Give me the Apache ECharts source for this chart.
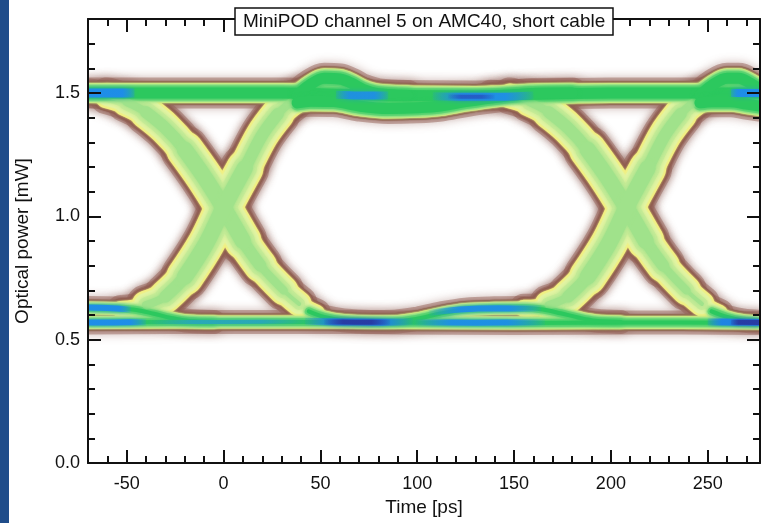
<!DOCTYPE html>
<html>
<head>
<meta charset="utf-8">
<script src="https://cdn.jsdelivr.net/npm/echarts@6/dist/echarts.min.js"></script>
<style>
  html, body { margin: 0; padding: 0; background: #fff; }
  #chart { width: 767px; height: 523px; }
</style>
</head>
<body>
<div id="chart"></div>
<script>
// ---- text and axes ----
const FONT = '"Liberation Sans", Arial, sans-serif';
const titleText = 'MiniPOD channel 5 on AMC40, short cable';
const xName = 'Time [ps]';
const yName = 'Optical power [mW]';
const timeRange = [-70, 277];
const powerRange = [0, 1.8];
const xMajorTicks = [-50, 0, 50, 100, 150, 200, 250];
const xMinorTicks = [-60, -40, -30, -20, -10, 10, 20, 30, 40, 60, 70, 80, 90, 110, 120, 130, 140,
                     160, 170, 180, 190, 210, 220, 230, 240, 260, 270];
const yMajorTicks = [0, 0.5, 1.0, 1.5];
const yMinorTicks = [0.1, 0.2, 0.3, 0.4, 0.6, 0.7, 0.8, 0.9, 1.1, 1.2, 1.3, 1.4, 1.6, 1.7];

// ---- eye traces: [time ps, optical power mW] ----
const highRail = [[-70, 1.50], [-20, 1.50], [30, 1.50], [60, 1.495], [90, 1.49], [130, 1.488],
                  [160, 1.495], [200, 1.50], [240, 1.50], [277, 1.50]];
const lowRail = [[-70, 0.57], [0, 0.572], [50, 0.572], [90, 0.57], [150, 0.568], [210, 0.57], [277, 0.568]];
const lowSettlePrev = [[-70, 0.628], [-55, 0.626], [-45, 0.62], [-36, 0.605], [-27, 0.588], [-18, 0.576], [-5, 0.572]];
const fallEdge0 = [[-70, 1.50], [-60, 1.488], [-50, 1.463], [-40, 1.422], [-30, 1.357], [-20, 1.27], [-10, 1.16],
                   [0, 1.035], [10, 0.90], [19, 0.80], [31, 0.70], [39, 0.645], [48, 0.607]];
const lowSettle0 = [[44, 0.615], [52, 0.592], [62, 0.578], [76, 0.572], [88, 0.573], [100, 0.585], [112, 0.606],
                    [125, 0.622], [140, 0.627], [155, 0.628], [165, 0.622], [174, 0.607], [183, 0.59],
                    [192, 0.577], [205, 0.572]];
const riseEdge0 = [[-53, 0.622], [-46, 0.628], [-40, 0.64], [-30, 0.675], [-20, 0.755], [-9, 0.89], [0, 1.035],
                   [11, 1.195], [20, 1.33], [28, 1.415], [36, 1.47], [44, 1.50], [50, 1.505]];
const riseOvershoot0 = [[38, 1.49], [44, 1.53], [52, 1.56], [60, 1.557], [66, 1.54], [72, 1.515],
                        [80, 1.497], [95, 1.49]];
const riseSettle0 = [[38, 1.46], [45, 1.467], [57, 1.465], [70, 1.447], [85, 1.437], [100, 1.44],
                     [112, 1.447], [125, 1.465], [143, 1.485], [160, 1.498], [180, 1.50]];
const fallEdge208 = [[138, 1.495], [148, 1.488], [158, 1.463], [168, 1.422], [178, 1.357], [188, 1.27], [198, 1.16],
                     [208, 1.035], [218, 0.90], [227, 0.80], [239, 0.70], [247, 0.645], [256, 0.607]];
const lowSettle208 = [[252, 0.615], [260, 0.592], [268, 0.578], [277, 0.572]];
const riseEdge208 = [[155, 0.627], [162, 0.63], [168, 0.64], [178, 0.675], [188, 0.755], [199, 0.89],
                     [208, 1.035], [219, 1.195], [228, 1.33], [236, 1.415], [244, 1.47], [252, 1.50], [258, 1.505]];
const riseOvershoot208 = [[246, 1.49], [252, 1.53], [260, 1.56], [266, 1.56], [272, 1.54], [277, 1.515]];
const riseSettle208 = [[246, 1.46], [252, 1.465], [262, 1.465], [270, 1.455], [277, 1.447]];

// ---- densest spots of the eye ----
const blueHighLeft = [[-70, 1.50], [-58, 1.50], [-46, 1.50]];
const blueHighMid = [[58, 1.493], [70, 1.49], [85, 1.49]];
const blueHighRun = [[108, 1.487], [125, 1.485], [142, 1.485], [160, 1.49]];
const blueHighRight = [[262, 1.50], [270, 1.50], [277, 1.50]];
const darkHigh = [[116, 1.486], [128, 1.485], [140, 1.485]];
const blueLowLeftUpper = [[-70, 0.63], [-60, 0.628], [-48, 0.622]];
const blueLowLeftLower = [[-70, 0.57], [-56, 0.57], [-40, 0.571]];
const blueLowRun = [[-40, 0.571], [0, 0.572], [44, 0.574]];
const blueLowCore = [[42, 0.575], [60, 0.572], [78, 0.571], [98, 0.573]];
const darkLowCore = [[52, 0.572], [68, 0.571], [86, 0.571]];
const blueLowUpper2 = [[106, 0.608], [122, 0.622], [142, 0.627], [164, 0.626]];
const blueLowLower2 = [[98, 0.57], [130, 0.569], [166, 0.57]];
const blueLowRight = [[250, 0.572], [264, 0.571], [277, 0.57]];
const darkLowRight = [[262, 0.571], [277, 0.57]];

// ---- drawing ----
// points of a trace inside a time window: the steep part of an edge is drawn wider (timing jitter)
const within = (trace, t0, t1) => trace.filter(p => p[0] >= t0 && p[0] <= t1);

const traceGroups = [
  { data: fallEdge0, w: 22, kind: 'edge' },
  { data: riseEdge0, w: 22, kind: 'edge' },
  { data: fallEdge208, w: 22, kind: 'edge' },
  { data: riseEdge208, w: 22, kind: 'edge' },
  { data: within(fallEdge0, -60, 39), w: 30, kind: 'edge' },
  { data: within(riseEdge0, -40, 44), w: 30, kind: 'edge' },
  { data: within(fallEdge208, 148, 247), w: 30, kind: 'edge' },
  { data: within(riseEdge208, 168, 252), w: 30, kind: 'edge' },
  { data: within(fallEdge0, -50, 31), w: 34, kind: 'edge' },
  { data: within(riseEdge0, -40, 36), w: 34, kind: 'edge' },
  { data: within(fallEdge208, 158, 239), w: 34, kind: 'edge' },
  { data: within(riseEdge208, 168, 244), w: 34, kind: 'edge' },
  { data: within(fallEdge0, -40, 19), w: 38, kind: 'edge' },
  { data: within(riseEdge0, -30, 28), w: 38, kind: 'edge' },
  { data: within(fallEdge208, 168, 227), w: 38, kind: 'edge' },
  { data: within(riseEdge208, 178, 236), w: 38, kind: 'edge' },
  { data: within(fallEdge0, -20, 10), w: 42, kind: 'edge' },
  { data: within(riseEdge0, -20, 11), w: 42, kind: 'edge' },
  { data: within(fallEdge208, 188, 218), w: 42, kind: 'edge' },
  { data: within(riseEdge208, 188, 219), w: 42, kind: 'edge' },
  { data: lowRail, w: 17, kind: 'rail' },
  { data: lowSettlePrev, w: 17, kind: 'rail' },
  { data: lowSettle0, w: 17, kind: 'rail' },
  { data: lowSettle208, w: 17, kind: 'rail' },
  { data: highRail, w: 24, kind: 'rail' },
  { data: riseOvershoot0, w: 24, kind: 'rail' },
  { data: riseSettle0, w: 24, kind: 'rail' },
  { data: riseOvershoot208, w: 24, kind: 'rail' },
  { data: riseSettle208, w: 24, kind: 'rail' }
];

// band layers, outermost first: colour per band kind, width relative to the band's brown rim
const palette = {
  edge: { pale: '#e4f4a3', lime: '#c6eb97', green: '#a0e28b' },
  rail: { pale: '#c6ee93', lime: '#6fd87a', green: '#2cc85e' }
};
const layers = [
  { blur: 10, shadow: 'rgba(140,90,80,0.85)', color: () => 'rgba(150,100,90,0.5)', width: { edge: 7, rail: 7 } },
  { blur: 2, color: () => '#8f5d51', width: { edge: 0, rail: 0 } },
  { blur: 2, color: () => '#f3ef7e', width: { edge: -5, rail: -4 } },
  { blur: 3, color: k => palette[k].pale, width: { edge: -10, rail: -6 } },
  { blur: 4, color: k => palette[k].lime, width: { edge: -18, rail: -9 } },
  { blur: 4, color: k => palette[k].green, width: { edge: -26, rail: -13 } }
];

const hotSpots = [
  { data: blueLowRun, width: 4, rgb: '40,150,235', a: 0.55, fade: [true, true] },
  { data: blueHighLeft, width: 9, rgb: '30,140,235', a: 0.95, fade: [false, true] },
  { data: blueHighMid, width: 8, rgb: '30,140,235', a: 0.85, fade: [true, true] },
  { data: blueHighRun, width: 8, rgb: '30,140,235', a: 0.9, fade: [true, true] },
  { data: blueHighRight, width: 8, rgb: '30,140,235', a: 0.95, fade: [true, false] },
  { data: darkHigh, width: 4, rgb: '40,70,185', a: 0.6, fade: [true, true] },
  { data: blueLowLeftUpper, width: 6, rgb: '30,140,235', a: 0.95, fade: [false, true] },
  { data: blueLowLeftLower, width: 6, rgb: '30,140,235', a: 0.95, fade: [false, true] },
  { data: blueLowCore, width: 7, rgb: '30,130,230', a: 0.95, fade: [true, true] },
  { data: darkLowCore, width: 5, rgb: '40,55,160', a: 0.9, fade: [true, true] },
  { data: blueLowUpper2, width: 6, rgb: '30,140,235', a: 0.9, fade: [true, true] },
  { data: blueLowLower2, width: 6, rgb: '30,140,235', a: 0.9, fade: [true, true] },
  { data: blueLowRight, width: 7, rgb: '30,130,230', a: 0.95, fade: [true, false] },
  { data: darkLowRight, width: 5, rgb: '40,55,160', a: 0.9, fade: [true, false] }
];

function fadeGradient(rgb, a, fade) {
  return {
    type: 'linear', x: 0, y: 0, x2: 1, y2: 0,
    colorStops: [
      { offset: 0, color: `rgba(${rgb},${fade[0] ? 0 : a})` },
      { offset: 0.3, color: `rgba(${rgb},${a})` },
      { offset: 0.7, color: `rgba(${rgb},${a})` },
      { offset: 1, color: `rgba(${rgb},${fade[1] ? 0 : a})` }
    ]
  };
}

const series = [];
layers.forEach(layer => {
  traceGroups.forEach(g => {
    const width = g.w + layer.width[g.kind];
    if (width <= 0) return;
    const color = layer.color(g.kind);
    series.push({
      type: 'line', data: g.data, symbol: 'none', smooth: 0.35, silent: true,
      animation: false, emphasis: { disabled: true }, z: 2,
      lineStyle: {
        width: width, color: color, cap: 'round', join: 'round',
        shadowBlur: layer.blur, shadowColor: layer.shadow || color
      }
    });
  });
});
hotSpots.forEach(h => {
  series.push({
    type: 'line', data: h.data, symbol: 'none', smooth: 0.35, silent: true,
    animation: false, emphasis: { disabled: true }, z: 2,
    lineStyle: {
      width: h.width, color: fadeGradient(h.rgb, h.a, h.fade), cap: 'butt',
      shadowBlur: 5, shadowColor: `rgba(${h.rgb},0.6)`
    }
  });
});

const axisColor = '#111';
function xAxisCfg(position, ticks, len, withLine, withLabel) {
  return {
    type: 'value', position, min: timeRange[0], max: timeRange[1], z: 10,
    name: withLabel ? xName : '', nameLocation: 'middle', nameGap: 35,
    nameTextStyle: { fontSize: 19, color: axisColor, fontFamily: FONT },
    axisLine: { show: withLine, onZero: false, lineStyle: { color: axisColor, width: 2 } },
    axisTick: { show: true, inside: true, length: len, customValues: ticks,
                lineStyle: { color: axisColor, width: 2 } },
    axisLabel: withLabel
      ? { show: true, customValues: ticks, fontSize: 18, color: axisColor, fontFamily: FONT, margin: 12 }
      : { show: false },
    splitLine: { show: false }
  };
}
function yAxisCfg(position, ticks, len, withLine, withLabel) {
  return {
    type: 'value', position, min: powerRange[0], max: powerRange[1], z: 10,
    name: withLabel ? yName : '', nameLocation: 'middle', nameGap: 56,
    nameTextStyle: { fontSize: 19, color: axisColor, fontFamily: FONT },
    axisLine: { show: withLine, onZero: false, lineStyle: { color: axisColor, width: 2 } },
    axisTick: { show: true, inside: true, length: len, customValues: ticks,
                lineStyle: { color: axisColor, width: 2 } },
    axisLabel: withLabel
      ? { show: true, customValues: ticks, fontSize: 18, color: axisColor, fontFamily: FONT, margin: 8,
          formatter: v => v.toFixed(1) }
      : { show: false },
    splitLine: { show: false }
  };
}

const chart = echarts.init(document.getElementById('chart'), null, { renderer: 'canvas' });
chart.setOption({
  animation: false,
  backgroundColor: '#fff',
  grid: { left: 88, right: 7, top: 19, bottom: 60, containLabel: false },
  title: {
    text: titleText, left: 235, top: 8, padding: [4, 8], z: 12,
    backgroundColor: '#fff', borderColor: axisColor, borderWidth: 1.5,
    textStyle: { fontSize: 19, fontWeight: 'normal', color: axisColor, fontFamily: FONT }
  },
  xAxis: [
    xAxisCfg('bottom', xMajorTicks, 13, true, true),
    xAxisCfg('bottom', xMinorTicks, 7, false, false),
    xAxisCfg('top', xMajorTicks, 13, true, false),
    xAxisCfg('top', xMinorTicks, 7, false, false)
  ],
  yAxis: [
    yAxisCfg('left', yMajorTicks, 13, true, true),
    yAxisCfg('left', yMinorTicks, 7, false, false),
    yAxisCfg('right', yMajorTicks, 13, true, false),
    yAxisCfg('right', yMinorTicks, 7, false, false)
  ],
  graphic: [
    { type: 'rect', silent: true, z: 5, shape: { x: 9, y: 0, width: 78, height: 523 }, style: { fill: '#fff' } },
    { type: 'rect', silent: true, z: 5, shape: { x: 761, y: 0, width: 6, height: 523 }, style: { fill: '#fff' } },
    { type: 'rect', silent: true, z: 20, shape: { x: 0, y: 0, width: 9, height: 523 }, style: { fill: '#1f4d8a' } }
  ],
  series: series
});
</script>
</body>
</html>
